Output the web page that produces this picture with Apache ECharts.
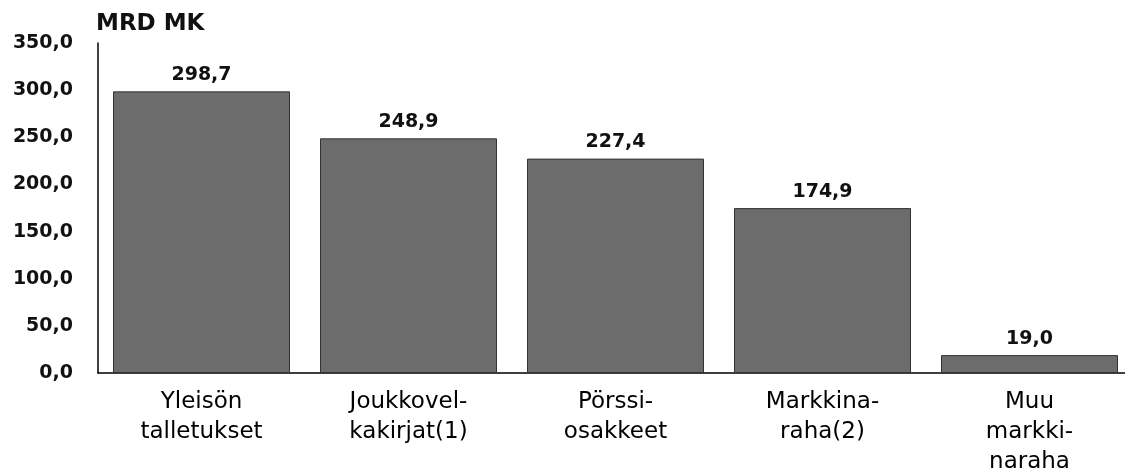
<!DOCTYPE html>
<html>
<head>
<meta charset="utf-8">
<script src="https://cdn.jsdelivr.net/npm/echarts@6/dist/echarts.min.js"></script>
<style>
  html, body { margin: 0; padding: 0; background: #fff; }
  #chart { width: 1125px; height: 469px; }
</style>
</head>
<body>
<div id="chart"></div>
<script>
var categories = ['Yleisön\ntalletukset', 'Joukkovel-\nkakirjat(1)', 'Pörssi-\nosakkeet', 'Markkina-\nraha(2)', 'Muu\nmarkki-\nnaraha'];
var values = [298.7, 248.9, 227.4, 174.9, 19.0];
var unitName = 'MRD MK';

function fi(v) {
    return v.toFixed(1).replace('.', ',');
}

var chart = echarts.init(document.getElementById('chart'));
var option = {
    backgroundColor: '#fff',
    animation: false,
    grid: { left: 98, top: 43, bottom: 96, width: 1035, containLabel: false, outerBoundsMode: 'none' },
    xAxis: {
        type: 'category',
        data: categories,
        axisLine: { lineStyle: { color: '#000', width: 1.5 } },
        axisTick: { show: false },
        axisLabel: {
            interval: 0,
            margin: 14,
            fontFamily: 'DejaVu Sans',
            fontSize: 23,
            lineHeight: 30,
            color: '#000'
        }
    },
    yAxis: {
        type: 'value',
        min: 0,
        max: 350,
        interval: 50,
        name: unitName,
        nameLocation: 'end',
        nameGap: 7,
        nameTextStyle: {
            align: 'left',
            padding: [0, 0, 0, -2],
            fontFamily: 'DejaVu Sans',
            fontWeight: 'bold',
            fontSize: 23,
            color: '#111'
        },
        axisLine: { show: true, lineStyle: { color: '#000', width: 1.5 } },
        axisTick: { show: false },
        splitLine: { show: false },
        axisLabel: {
            margin: 25,
            fontFamily: 'DejaVu Sans',
            fontWeight: 'bold',
            fontSize: 19,
            color: '#111',
            formatter: function (v) { return fi(v); }
        }
    },
    series: [{
        type: 'bar',
        data: values,
        barWidth: 177,
        itemStyle: { color: '#6c6c6c', borderColor: '#333', borderWidth: 1 },
        label: {
            show: true,
            position: 'top',
            distance: 7,
            fontFamily: 'DejaVu Sans',
            fontWeight: 'bold',
            fontSize: 19,
            color: '#111',
            formatter: function (p) { return fi(p.value); }
        }
    }]
};
chart.setOption(option);
</script>
</body>
</html>
